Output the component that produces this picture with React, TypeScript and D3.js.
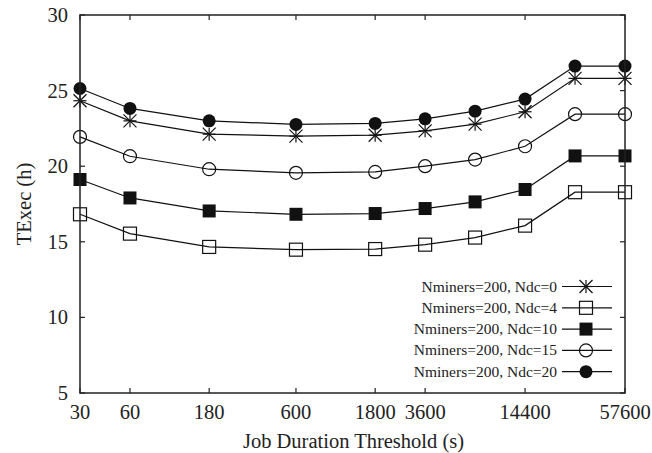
import React from "react";
import * as d3 from "d3";

const xValues = [30, 60, 180, 600, 1800, 3600, 7200, 14400, 28800, 57600];
const xTicks = [30, 60, 180, 600, 1800, 3600, 14400, 57600];
const yTicks = [5, 10, 15, 20, 25, 30];

const seriesNames = [
  "Nminers=200, Ndc=0",
  "Nminers=200, Ndc=4",
  "Nminers=200, Ndc=10",
  "Nminers=200, Ndc=15",
  "Nminers=200, Ndc=20",
];
const ndc0 = [24.33, 23.0, 22.12, 21.99, 22.05, 22.34, 22.78, 23.6, 25.81, 25.81];
const ndc4 = [16.82, 15.54, 14.66, 14.48, 14.52, 14.81, 15.28, 16.07, 18.28, 18.28];
const ndc10 = [19.12, 17.9, 17.04, 16.82, 16.87, 17.2, 17.64, 18.46, 20.68, 20.68];
const ndc15 = [21.94, 20.66, 19.8, 19.56, 19.62, 20.0, 20.44, 21.32, 23.44, 23.44];
const ndc20 = [25.14, 23.82, 23.0, 22.76, 22.83, 23.13, 23.64, 24.44, 26.62, 26.62];
const seriesValues = [ndc0, ndc4, ndc10, ndc15, ndc20];
const markerTypes = ["star", "openSquare", "filledSquare", "openCircle", "filledCircle"];

const W = 652;
const H = 453;
const left = 80;
const right = 625;
const top = 15;
const bottom = 393;
const FONT = "'Liberation Serif', 'DejaVu Serif', serif";

function Marker({ type, x, y }: { type: string; x: number; y: number }) {
  const s = 6.5;
  if (type === "star") {
    return (
      <g stroke="#111" strokeWidth={1.2}>
        <line x1={x - s} y1={y} x2={x + s} y2={y} />
        <line x1={x} y1={y - s} x2={x} y2={y + s} />
        <line x1={x - s} y1={y - s} x2={x + s} y2={y + s} />
        <line x1={x - s} y1={y + s} x2={x + s} y2={y - s} />
      </g>
    );
  }
  if (type === "openSquare")
    return <rect x={x - s} y={y - s} width={2 * s} height={2 * s} fill="none" stroke="#111" strokeWidth={1.2} />;
  if (type === "filledSquare")
    return <rect x={x - s} y={y - s} width={2 * s} height={2 * s} fill="#111" />;
  if (type === "openCircle")
    return <circle cx={x} cy={y} r={s} fill="none" stroke="#111" strokeWidth={1.2} />;
  return <circle cx={x} cy={y} r={s} fill="#111" />;
}

export default function App() {
  const x = d3.scaleLog().domain([30, 57600]).range([left, right]);
  const y = d3.scaleLinear().domain([5, 30]).range([bottom, top]);
  const line = d3
    .line<number>()
    .x((_, i) => x(xValues[i]))
    .y((d) => y(d));

  const legendY = (i: number) => 286.5 + i * 21.3;

  return (
    <svg width={W} height={H} style={{ position: "absolute", left: 0, top: 0, background: "white" }} fontFamily={FONT}>
      <rect x={0} y={0} width={W} height={H} fill="white" />
      {xTicks.map((t) => (
        <g key={"xt" + t} stroke="#222" strokeWidth={1.2}>
          <line x1={x(t)} x2={x(t)} y1={bottom} y2={bottom - 5} />
          <line x1={x(t)} x2={x(t)} y1={top} y2={top + 5} />
        </g>
      ))}
      {yTicks.map((t) => (
        <g key={"yt" + t} stroke="#222" strokeWidth={1.2}>
          <line x1={left} x2={left + 5} y1={y(t)} y2={y(t)} />
          <line x1={right} x2={right - 5} y1={y(t)} y2={y(t)} />
        </g>
      ))}
      {xTicks.map((t) => (
        <text key={"xl" + t} x={x(t)} y={419} textAnchor="middle" fontSize={20.5} fill="#222">
          {t}
        </text>
      ))}
      {yTicks.map((t) => (
        <text key={"yl" + t} x={68} y={y(t) + 7} textAnchor="end" fontSize={20.5} fill="#222">
          {t}
        </text>
      ))}
      {seriesValues.map((vals, si) => (
        <g key={"s" + si}>
          <path d={line(vals) || ""} fill="none" stroke="#111" strokeWidth={1.2} />
          {vals.map((v, i) => (
            <Marker key={i} type={markerTypes[si]} x={x(xValues[i])} y={y(v)} />
          ))}
        </g>
      ))}
      <rect x={left} y={top} width={right - left} height={bottom - top} fill="none" stroke="#222" strokeWidth={1.5} />
      {seriesNames.map((name, i) => (
        <g key={"lg" + i}>
          <text x={557} y={legendY(i) + 5} textAnchor="end" fontSize={15.5} fill="#222">
            {name}
          </text>
          <line x1={562} x2={612} y1={legendY(i)} y2={legendY(i)} stroke="#111" strokeWidth={1.2} />
          <Marker type={markerTypes[i]} x={586} y={legendY(i)} />
        </g>
      ))}
      <text x={(left + right) / 2 + 1} y={448} textAnchor="middle" fontSize={20.5} fill="#222">
        Job Duration Threshold (s)
      </text>
      <text transform={`translate(31, ${(top + bottom) / 2}) rotate(-90)`} textAnchor="middle" fontSize={20.5} fill="#222">
        TExec (h)
      </text>
    </svg>
  );
}
